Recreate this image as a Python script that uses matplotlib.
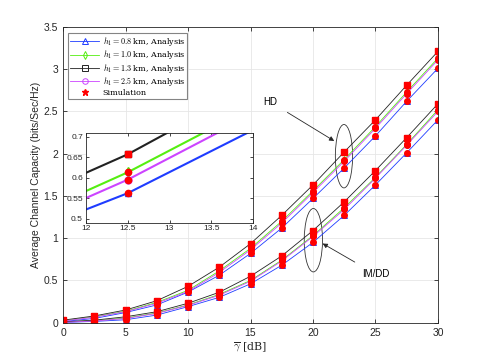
import numpy as np
import matplotlib
matplotlib.use("Agg")
import matplotlib.pyplot as plt
from matplotlib.patches import Ellipse
from matplotlib.lines import Line2D

plt.rcParams['font.family'] = ['Liberation Sans', 'DejaVu Sans']
plt.rcParams['mathtext.fontset'] = 'cm'

snr = [0, 2.5, 5, 7.5, 10, 12.5, 15, 17.5, 20, 22.5, 25, 27.5, 30]

# HD curves
hd_08 = [0.015, 0.05, 0.12, 0.21, 0.362, 0.562, 0.82, 1.12, 1.47, 1.83, 2.21, 2.62, 3.01]
hd_10 = [0.025, 0.07, 0.135, 0.24, 0.383, 0.613, 0.88, 1.20, 1.56, 1.93, 2.32, 2.73, 3.13]
hd_13 = [0.03, 0.08, 0.15, 0.26, 0.43, 0.657, 0.935, 1.27, 1.63, 2.02, 2.40, 2.81, 3.21]
hd_25 = [0.02, 0.065, 0.13, 0.23, 0.37, 0.595, 0.862, 1.18, 1.54, 1.91, 2.30, 2.71, 3.11]

# IM/DD curves
im_08 = [0.003, 0.015, 0.035, 0.09, 0.19, 0.30, 0.46, 0.68, 0.95, 1.27, 1.63, 2.01, 2.40]
im_10 = [0.008, 0.025, 0.055, 0.115, 0.21, 0.335, 0.50, 0.74, 1.03, 1.36, 1.72, 2.11, 2.52]
im_13 = [0.01, 0.03, 0.07, 0.13, 0.23, 0.36, 0.55, 0.79, 1.09, 1.43, 1.80, 2.19, 2.59]
im_25 = [0.005, 0.02, 0.05, 0.11, 0.205, 0.325, 0.49, 0.73, 1.02, 1.34, 1.71, 2.10, 2.50]

labels = [r"$h_1 = 0.8$ km, Analysis", r"$h_1 = 1.0$ km, Analysis",
          r"$h_1 = 1.3$ km, Analysis", r"$h_1 = 2.5$ km, Analysis"]
colores = ['#1f3cff', '#55ee11', '#222222', '#cc44ff']
marcas = ['^', 'd', 's', 'o']
sim_marcas = ['o', 'o', 's', 'o']

hd = [hd_08, hd_10, hd_13, hd_25]
im = [im_08, im_10, im_13, im_25]

fig = plt.figure(figsize=(4.85, 3.63), dpi=100)
ax = fig.add_axes([0.130, 0.111, 0.773, 0.815])

handles = []
for k in range(4):
    h, = ax.plot(snr, hd[k], color=colores[k], lw=0.6, marker=marcas[k],
                 mfc='none', ms=4, mew=0.7, label=labels[k])
    ax.plot(snr, im[k], color=colores[k], lw=0.6, marker=marcas[k],
            mfc='none', ms=4, mew=0.7)
    handles.append(h)
for k in range(4):
    ax.plot(snr, hd[k], ls='none', marker=sim_marcas[k], color='red',
            ms=4, mec='red')
    ax.plot(snr, im[k], ls='none', marker=sim_marcas[k], color='red',
            ms=4, mec='red')
handles.append(Line2D([], [], ls='none', marker='*', color='red', ms=4.5))

leg = ax.legend(handles, labels + ['Simulation'], loc='upper left',
                bbox_to_anchor=(0.01, 0.985), frameon=True,
                fancybox=False, edgecolor='0.4', borderpad=0.25,
                labelspacing=0.05, handlelength=3.6, handletextpad=0.4,
                borderaxespad=0.2,
                prop={'family': 'DejaVu Serif', 'size': 5.8})
leg.get_frame().set_linewidth(0.8)

ax.set_xlim(0, 30)
ax.set_ylim(0, 3.5)
ax.set_xticks([0, 5, 10, 15, 20, 25, 30])
ax.set_yticks([0, 0.5, 1, 1.5, 2, 2.5, 3, 3.5])
ax.set_yticklabels(['0', '0.5', '1', '1.5', '2', '2.5', '3', '3.5'])
ax.tick_params(direction='in', labelsize=7.5, colors='0.15', length=3,
               top=True, right=True, width=0.6)
ax.grid(True, color='0.9', lw=0.6)
ax.set_axisbelow(True)
for s in ax.spines.values():
    s.set_color('0.15')
    s.set_linewidth(0.6)
ax.set_ylabel('Average Channel Capacity (bits/Sec/Hz)', fontsize=7.5,
              color='0.15', labelpad=2)
ax.set_xlabel(r'$\overline{\gamma}$ [dB]', fontsize=8, color='0.15',
              fontfamily='DejaVu Serif', labelpad=2)

# ellipses and annotations
ax.add_patch(Ellipse((22.48, 1.97), 1.38, 0.75, fill=False, ec='0.2', lw=0.6))
ax.add_patch(Ellipse((20.03, 0.976), 1.46, 0.75, fill=False, ec='0.2', lw=0.6))
ax.annotate('HD', xy=(21.7, 2.15), xytext=(16.6, 2.61), fontsize=7,
            ha='center', va='center',
            arrowprops=dict(arrowstyle='-|>', color='0.15', lw=0.6,
                            mutation_scale=7, shrinkA=6, shrinkB=0))
ax.annotate('IM/DD', xy=(20.77, 0.937), xytext=(25.0, 0.576), fontsize=7,
            ha='center', va='center',
            arrowprops=dict(arrowstyle='-|>', color='0.15', lw=0.6,
                            mutation_scale=7, shrinkA=6, shrinkB=0))

# inset
axi = fig.add_axes([0.1767, 0.3865, 0.3456, 0.248])
for k in range(4):
    axi.plot(snr, hd[k], color=colores[k], lw=1.5, marker=marcas[k],
             mfc='none', ms=5, mew=1)
for k in range(4):
    axi.plot(snr, hd[k], ls='none', marker=sim_marcas[k], color='red',
             ms=4.5, mec='red')
axi.set_xlim(12, 14)
axi.set_ylim(0.49, 0.71)
axi.set_xticks([12, 12.5, 13, 13.5, 14])
axi.set_xticklabels(['12', '12.5', '13', '13.5', '14'])
axi.set_yticks([0.5, 0.55, 0.6, 0.65, 0.7])
axi.set_yticklabels(['0.5', '0.55', '0.6', '0.65', '0.7'])
axi.tick_params(direction='in', labelsize=6, colors='0.15', length=2.5,
                top=True, right=True, width=0.6, pad=2)
for s in axi.spines.values():
    s.set_color('0.15')
    s.set_linewidth(0.6)

fig.savefig('out.png', dpi=100)
